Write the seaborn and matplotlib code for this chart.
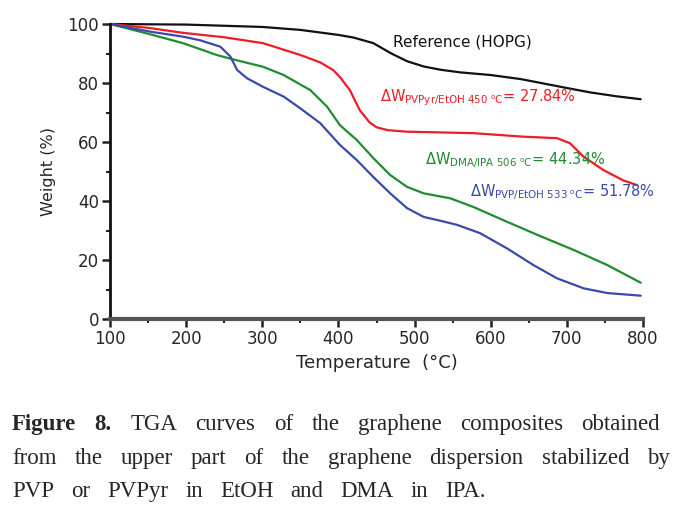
import numpy as np
import pandas as pd
import matplotlib
matplotlib.use("Agg")
import matplotlib.pyplot as plt
import seaborn as sns
from matplotlib.ticker import MultipleLocator

# ---------------- data ----------------
ref_T = [100, 200, 300, 350, 400, 420, 446, 468, 490, 512, 534, 560, 600,
         640, 666, 700, 731, 765, 797]
ref_W = [100, 99.8, 99.0, 98.0, 96.3, 95.4, 93.5, 90.2, 87.4, 85.6, 84.5,
         83.6, 82.7, 81.3, 80.0, 78.3, 76.8, 75.5, 74.5]

pvpyr_T = [100, 150, 196, 250, 301, 350, 376, 393, 402, 415, 428, 441, 450,
           465, 490, 577, 643, 687, 704, 722, 748, 774, 792]
pvpyr_W = [100, 98.7, 97.0, 95.5, 93.5, 89.5, 87.0, 84.4, 82.0, 77.6, 70.8,
           66.6, 65.0, 64.0, 63.5, 63.0, 61.8, 61.3, 59.6, 55.0, 50.5, 47.0, 45.4]

dma_T = [100, 153, 196, 240, 262, 301, 328, 363, 385, 402, 424, 446, 468,
         490, 512, 547, 577, 621, 666, 709, 753, 797]
dma_W = [100, 96.5, 93.5, 89.5, 88.0, 85.5, 82.7, 77.6, 72.0, 65.7, 60.7,
         54.5, 48.8, 44.8, 42.6, 40.9, 38.0, 33.0, 28.0, 23.4, 18.3, 12.3]

pvp_T = [100, 153, 196, 218, 245, 258, 267, 280, 301, 328, 350, 376, 402,
         424, 446, 468, 490, 512, 534, 556, 586, 621, 656, 687, 722, 753, 797]
pvp_W = [100, 97.4, 95.7, 94.5, 92.3, 89.0, 84.4, 81.6, 78.7, 75.4, 71.4,
         66.4, 59.0, 53.9, 48.1, 42.6, 37.6, 34.6, 33.3, 31.9, 29.1, 24.0,
         18.3, 13.8, 10.4, 8.8, 7.9]

series_names = ["Reference (HOPG)", "PVPyr/EtOH", "DMA/IPA", "PVP/EtOH"]
series_colors = ["#111111", "#ee1c24", "#1f8c2e", "#3a4aa8"]

x_ticks = [100, 200, 300, 400, 500, 600, 700, 800]
y_ticks = [0, 20, 40, 60, 80, 100]

annotations = [
    ("Reference (HOPG)", 472, 94.0),
    (r"$\Delta$W$_{\mathregular{PVPyr/EtOH\ 450\ ^oC}}$= 27.84%", 455, 75.0),
    (r"$\Delta$W$_{\mathregular{DMA/IPA\ 506\ ^oC}}$= 44.34%", 514, 54.0),
    (r"$\Delta$W$_{\mathregular{PVP/EtOH\ 533\ ^oC}}$= 51.78%", 573, 43.0),
]

caption_lines = [
    ["Figure", "8.", "TGA", "curves", "of", "the", "graphene", "composites", "obtained"],
    ["from", "the", "upper", "part", "of", "the", "graphene", "dispersion", "stabilized", "by"],
    ["PVP", "or", "PVPyr", "in", "EtOH", "and", "DMA", "in", "IPA."],
]

# ---------------- build frame ----------------
frames = []
for name, T, W in zip(series_names,
                      [ref_T, pvpyr_T, dma_T, pvp_T],
                      [ref_W, pvpyr_W, dma_W, pvp_W]):
    frames.append(pd.DataFrame({"T": T, "W": W, "s": name}))
df = pd.concat(frames, ignore_index=True)

sns.set_style("ticks")
plt.rcParams["font.family"] = ["DejaVu Sans"]
plt.rcParams["mathtext.fontset"] = "dejavusans"

fig = plt.figure(figsize=(6.84, 5.15), dpi=100)
ax = fig.add_axes([110 / 684, 1 - 319 / 515, (643 - 110) / 684, (319 - 24) / 515])

sns.lineplot(data=df, x="T", y="W", hue="s", palette=dict(zip(series_names, series_colors)),
             hue_order=series_names, ax=ax, legend=False, linewidth=1.6, sort=False)
for ln in ax.lines:
    ln.set_clip_on(False)
    ln.set_solid_joinstyle("round")

ax.set_xlim(100, 800)
ax.set_ylim(0, 100)
ax.set_xticks(x_ticks)
ax.set_yticks(y_ticks)
ax.xaxis.set_minor_locator(MultipleLocator(50))
ax.yaxis.set_minor_locator(MultipleLocator(10))
ax.tick_params(which="major", length=6, width=1.8, labelsize=12, color="#222222", pad=2)
ax.tick_params(which="minor", length=3, width=1.5, color="#222222")
for side in ["top", "right"]:
    ax.spines[side].set_visible(False)
ax.spines["left"].set_linewidth(2)
ax.spines["left"].set_color("#111111")
ax.spines["bottom"].set_linewidth(3)
ax.spines["bottom"].set_color("#555555")

ax.set_xlabel("Temperature  (°C)", fontsize=13, labelpad=4)
ax.set_ylabel("Weight (%)", fontsize=11.5, labelpad=8)

for (txt, tx, ty), col in zip(annotations, series_colors):
    fs = 11 if txt.startswith("Reference") else 10.5
    ax.text(tx, ty, txt, color=col, fontsize=fs, va="center", ha="left")

# ---------------- caption (justified) ----------------
fig.canvas.draw()
renderer = fig.canvas.get_renderer()
baselines = [430, 464, 497]
left_px, rights = 12, [660, 670, 486]
for words, base, right in zip(caption_lines, baselines, rights):
    arts = []
    for i, w in enumerate(words):
        bold = words[0] == "Figure" and i < 2
        t = fig.text(0, 1 - base / 515, w, fontsize=16.5, family="Liberation Serif",
                     fontweight="bold" if bold else "normal", va="baseline", ha="left")
        arts.append(t)
    widths = [a.get_window_extent(renderer).width for a in arts]
    gap = (right - left_px - sum(widths)) / (len(words) - 1)
    x = left_px
    for a, w in zip(arts, widths):
        a.set_x(x / 684)
        x += w + gap

fig.savefig("out.png", dpi=100)
